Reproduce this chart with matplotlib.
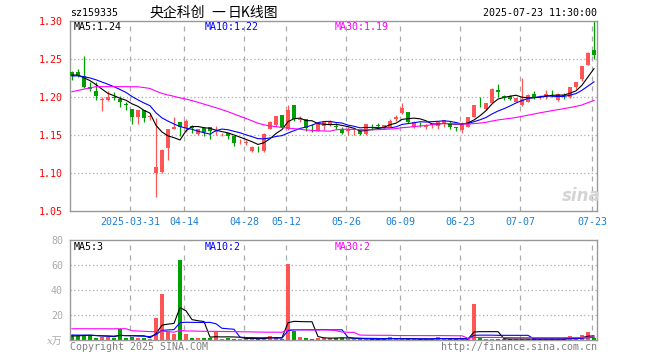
import matplotlib
matplotlib.use("Agg")
import matplotlib.pyplot as plt
import numpy as np
import pandas as pd

# trading days shown (2025-03-17 .. 2025-07-23, exchange holidays removed)
holidays = ["2025-04-04", "2025-05-01", "2025-05-02", "2025-05-05", "2025-06-02"]
dates = pd.bdate_range("2025-03-17", "2025-07-23", freq="C", holidays=holidays)

opens = [1.233, 1.2325, 1.2276, 1.213, 1.208, 1.196, 1.196, 1.200, 1.1974, 1.1905,
         1.1842, 1.1741, 1.1829, 1.1733, 1.0996, 1.1017, 1.1325, 1.158, 1.1667, 1.1588,
         1.1618, 1.1509, 1.1588, 1.160, 1.1535, 1.1496, 1.1522, 1.149, 1.1405, 1.140,
         1.1293, 1.132, 1.1293, 1.158, 1.1632, 1.1763, 1.1575, 1.1895, 1.170, 1.171,
         1.161, 1.1553, 1.1622, 1.1632, 1.162, 1.1575, 1.155, 1.155, 1.1553, 1.151,
         1.161, 1.163, 1.1588, 1.161, 1.171, 1.1785, 1.180, 1.160, 1.165, 1.1605,
         1.163, 1.1622, 1.164, 1.164, 1.161, 1.1566, 1.161, 1.1741, 1.190, 1.1838,
         1.1925, 1.2092, 1.2012, 1.2013, 1.1938, 1.1895, 1.1938, 1.204, 1.1995, 1.2004,
         1.2045, 1.196, 1.2022, 1.2004, 1.2127, 1.2233, 1.2421, 1.2618]
highs = [1.234, 1.2368, 1.254, 1.220, 1.2193, 1.2004, 1.2085, 1.207, 1.2017, 1.1935,
         1.1842, 1.1829, 1.1829, 1.179, 1.172, 1.1312, 1.1584, 1.1735, 1.1667, 1.1705,
         1.163, 1.158, 1.160, 1.1605, 1.162, 1.153, 1.153, 1.149, 1.1443, 1.144,
         1.136, 1.135, 1.152, 1.1684, 1.1755, 1.1763, 1.1895, 1.1895, 1.1755, 1.171,
         1.164, 1.166, 1.1667, 1.1695, 1.166, 1.160, 1.160, 1.1575, 1.156, 1.164,
         1.164, 1.166, 1.1635, 1.1715, 1.176, 1.1917, 1.180, 1.169, 1.167, 1.164,
         1.165, 1.1667, 1.1697, 1.168, 1.161, 1.167, 1.1741, 1.1895, 1.1996, 1.192,
         1.2114, 1.2167, 1.2026, 1.2026, 1.199, 1.2246, 1.2035, 1.2083, 1.2026, 1.2092,
         1.2092, 1.2048, 1.205, 1.213, 1.2196, 1.2412, 1.2588, 1.300]
lows = [1.222, 1.2265, 1.212, 1.208, 1.196, 1.182, 1.195, 1.196, 1.1865, 1.183,
        1.164, 1.1645, 1.167, 1.170, 1.0688, 1.100, 1.117, 1.1575, 1.1489, 1.1544,
        1.153, 1.150, 1.149, 1.1443, 1.150, 1.1483, 1.1443, 1.1356, 1.138, 1.137,
        1.128, 1.127, 1.128, 1.1575, 1.162, 1.160, 1.157, 1.168, 1.167, 1.155,
        1.1535, 1.155, 1.157, 1.162, 1.1575, 1.151, 1.150, 1.150, 1.150, 1.150,
        1.156, 1.159, 1.158, 1.161, 1.169, 1.178, 1.166, 1.159, 1.160, 1.1575,
        1.159, 1.158, 1.160, 1.158, 1.1557, 1.1526, 1.1605, 1.174, 1.1865, 1.1829,
        1.1917, 1.1996, 1.196, 1.196, 1.193, 1.188, 1.193, 1.198, 1.1974, 1.198,
        1.200, 1.195, 1.198, 1.199, 1.211, 1.221, 1.2415, 1.2496]
closes = [1.227, 1.228, 1.2136, 1.211, 1.2018, 1.1975, 1.1996, 1.199, 1.1935, 1.189,
          1.1741, 1.1829, 1.1728, 1.1754, 1.1083, 1.1303, 1.1575, 1.161, 1.160, 1.1684,
          1.1588, 1.1575, 1.1535, 1.1557, 1.1557, 1.150, 1.149, 1.140, 1.1412, 1.141,
          1.1346, 1.131, 1.1513, 1.1675, 1.175, 1.161, 1.1829, 1.1707, 1.1715, 1.1588,
          1.160, 1.164, 1.1667, 1.1684, 1.161, 1.153, 1.156, 1.1555, 1.151, 1.164,
          1.160, 1.162, 1.1632, 1.1684, 1.174, 1.1851, 1.1667, 1.1667, 1.164, 1.161,
          1.1645, 1.1667, 1.1697, 1.161, 1.159, 1.1654, 1.1741, 1.1895, 1.189, 1.1917,
          1.2101, 1.2062, 1.200, 1.197, 1.1983, 1.197, 1.2026, 1.2005, 1.2005, 1.204,
          1.2035, 1.2035, 1.2013, 1.2127, 1.2193, 1.2408, 1.2583, 1.2553]
# volume in 万
volumes = [4, 4, 4, 4, 2, 2.7, 2.7, 2, 8.8, 1.3,
           2.7, 2, 2, 1, 17.6, 36.8, 6.1, 4.8, 64.3, 4.8,
           1.6, 1.6, 1.6, 2, 6.1, 1, 2, 1, 1, 1.3,
           1.3, 0.8, 1.6, 3.2, 2.4, 1, 60.8, 7.2, 2.4, 1.6,
           1, 1.6, 2, 1.3, 2, 2, 0.8, 0.8, 0.8, 0.8,
           0.8, 0.8, 0.8, 2.4, 0.8, 0.8, 0.8, 0.8, 0.8, 0.8,
           0.8, 2.4, 0.8, 0.8, 0.8, 0.8, 0.8, 28.8, 2.1, 0.8,
           0.8, 0.8, 0.8, 0.8, 0.8, 0.8, 0.8, 0.8, 0.8, 0.8,
           0.8, 0.8, 0.8, 3.2, 0.8, 4, 6.4, 2]

# sessions before the window, only needed for the moving averages
prior_closes = [1.178, 1.164, 1.161, 1.152, 1.198, 1.200, 1.199, 1.194, 1.190, 1.176,
                1.184, 1.205, 1.210, 1.215, 1.220, 1.218, 1.215, 1.220, 1.218, 1.217,
                1.225, 1.226, 1.227, 1.226, 1.227, 1.229, 1.231, 1.230, 1.228]
prior_volumes = [3.5, 4.5, 4, 2.5, 2.5, 3, 2, 8, 1.5, 50,
                 9, 8.7, 9, 18, 22, 20, 19, 21, 19.4, 2.4,
                 5, 4, 4.5, 5, 5.5, 3.2, 2.8, 3.1, 2.9]

tick_dates = ["2025-03-31", "2025-04-14", "2025-04-28", "2025-05-12", "2025-05-26",
              "2025-06-09", "2025-06-23", "2025-07-07", "2025-07-23"]
tick_labels = ["2025-03-31", "04-14", "04-28", "05-12", "05-26",
               "06-09", "06-23", "07-07", "07-23"]

RED = "#ff5555"
GREEN = "#00a000"
GRID = "#aaaaaa"
MONO = "DejaVu Sans Mono"
CJK = ["Noto Sans CJK SC", "DejaVu Sans"]
FS = 7.2

o = np.array(opens); h = np.array(highs); l = np.array(lows); c = np.array(closes)
v = np.array(volumes)
x = np.arange(len(dates))
n_prior = len(prior_closes)

cs = pd.Series(prior_closes + closes)
vs = pd.Series(prior_volumes + volumes)
ma = {k: cs.rolling(k).mean().to_numpy()[n_prior:] for k in (5, 10, 30)}
vma = {k: vs.rolling(k).mean().to_numpy()[n_prior:] for k in (5, 10, 30)}
ma_colors = {5: "black", 10: "#0000ff", 30: "#ff00ff"}

up = c >= o
colors = np.where(up, RED, GREEN)

W, H = 660, 360
fig = plt.figure(figsize=(6.6, 3.6), dpi=100)
ax = fig.add_axes([70 / W, 1 - 211 / H, 527 / W, 190 / H])
axv = fig.add_axes([70 / W, 1 - 340 / H, 527 / W, 100 / H])

grid_x = [dates.get_loc(pd.Timestamp(d)) - 0.3 for d in tick_dates]

for a in (ax, axv):
    a.set_xlim(-0.33, 87.5)
    for s in a.spines.values():
        s.set_color("#999999")
        s.set_linewidth(1)
    for gx in grid_x:
        a.axvline(gx, color=GRID, lw=0.9, ls=(0, (4, 4)), zorder=0)
    a.tick_params(length=0)

# candles
ax.vlines(x, l, h, color=colors, lw=0.9, zorder=2)
body = np.maximum(np.abs(c - o), 0.0007)
ax.bar(x, body, bottom=np.minimum(o, c), width=0.72, color=colors, zorder=3)
for k in (5, 10, 30):
    ax.plot(x, ma[k], color=ma_colors[k], lw=0.8, zorder=4)
ax.set_ylim(1.05, 1.30)
for gy in (1.10, 1.15, 1.20, 1.25):
    ax.axhline(gy, color=GRID, lw=0.9, ls=(0, (1, 2)), zorder=0)
ax.set_yticks([1.05, 1.10, 1.15, 1.20, 1.25, 1.30])
ax.set_yticklabels(["%.2f" % t for t in ax.get_yticks()], color="red",
                   family=MONO, fontsize=FS)
ax.tick_params(axis="y", pad=5)
ax.set_xticks(grid_x)
ax.set_xticklabels(tick_labels, color="#1a7fd4", family=MONO, fontsize=FS)
ax.tick_params(axis="x", pad=4)

# volume
axv.bar(x, v, width=0.72, color=colors, zorder=2)
for k in (5, 10, 30):
    axv.plot(x, vma[k], color=ma_colors[k], lw=0.8, zorder=3)
axv.set_ylim(0, 80)
for gy in (20, 40, 60):
    axv.axhline(gy, color=GRID, lw=0.9, ls=(0, (1, 2)), zorder=0)
axv.set_yticks([20, 40, 60, 80])
axv.set_yticklabels(["20", "40", "60", "80"], color="#aaaaaa", family=MONO, fontsize=FS)
axv.tick_params(axis="y", pad=5)
axv.set_xticks([])


def ftext(px, py, s, **kw):
    kw.setdefault("family", MONO)
    kw.setdefault("fontsize", FS)
    kw.setdefault("va", "center")
    fig.text(px / W, 1 - py / H, s, **kw)


ftext(70, 13, "sz159335")
# title pieces are spaced apart like the original
ftext(177, 13, "央企科创", ha="center", family=CJK, fontsize=10)
ftext(218, 13, "一", ha="center", family=CJK, fontsize=10)
ftext(253, 13, "日K线图", ha="center", family=CJK, fontsize=10)
ftext(597, 13, "2025-07-23 11:30:00", ha="right")

ftext(74, 27, "MA5:1.24", color="black")
ftext(205, 27, "MA10:1.22", color="#0000ff")
ftext(335, 27, "MA30:1.19", color="#ff00ff")
ftext(74, 247, "MA5:3", color="black")
ftext(205, 247, "MA10:2", color="#0000ff")
ftext(335, 247, "MA30:2", color="#ff00ff")

ftext(63, 341, "x万", ha="right", color="#aaaaaa", family=["DejaVu Serif", "Noto Sans CJK SC"],
      style="italic")
ftext(70, 347, "Copyright 2025 SINA.COM", color="#808080")
ftext(597, 347, "http://finance.sina.com.cn", ha="right", color="#808080")

# watermark
ftext(581, 196, "sina", ha="center", family="DejaVu Sans", fontsize=12,
      weight="bold", style="italic", color="#d4d4d4")

fig.savefig("out.png", dpi=100)
